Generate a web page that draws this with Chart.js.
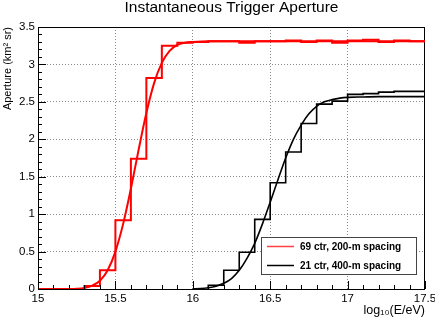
<!DOCTYPE html>
<html>
<head>
<meta charset="utf-8">
<script src="https://cdn.jsdelivr.net/npm/chart.js@4"></script>
<style>
html,body{margin:0;padding:0;background:#fff;}
canvas{display:block;}
</style>
</head>
<body>
<canvas id="c" width="435" height="320"></canvas>
<script>
// ---- data ----
const chartTitle = 'Instantaneous Trigger Aperture';
const xTitle = 'log\u2081\u2080(E/eV)';
const yTitle = 'Aperture (km\u00B2 sr)';
const xTickValues = [15, 15.5, 16, 16.5, 17, 17.5];
const xTickLabels = ['15', '15.5', '16', '16.5', '17', '17.5'];
const yTickValues = [0, 0.5, 1, 1.5, 2, 2.5, 3, 3.5];
const yTickLabels = ['0', '0.5', '1', '1.5', '2', '2.5', '3', '3.5'];

const redLabel = '69 ctr, 200-m spacing';
const blackLabel = '21 ctr, 400-m spacing';

// histogram bin edges and contents
const redBinEdges = [15.3,15.4,15.5,15.6,15.7,15.8,15.9,16.0,16.1,16.2,16.3,16.4,16.5,16.6,16.7,16.8,16.9,17.0,17.1,17.2,17.3,17.4,17.5];
const redCounts   = [0.04,0.25,0.92,1.74,2.82,3.25,3.29,3.30,3.31,3.31,3.29,3.31,3.31,3.32,3.30,3.32,3.29,3.32,3.33,3.30,3.32,3.31];

const blackBinEdges = [16.1,16.2,16.3,16.4,16.5,16.6,16.7,16.8,16.9,17.0,17.1,17.2,17.3,17.4,17.5];
const blackCounts   = [0.05,0.25,0.49,0.93,1.42,1.83,2.21,2.47,2.51,2.60,2.61,2.63,2.64,2.64];

// fitted curves
const redFitX = [15.0,15.1,15.2,15.25,15.3,15.35,15.4,15.45,15.5,15.55,15.6,15.65,15.7,15.75,15.8,15.85,15.9,15.95,16.0,16.1,16.5,17.0,17.5];
const redFitY = [0.0,0.0,0.001,0.004,0.015,0.044,0.11,0.25,0.5,0.87,1.34,1.86,2.35,2.75,3.02,3.18,3.26,3.29,3.30,3.31,3.31,3.31,3.31];

const blackFitX = [16.0,16.05,16.1,16.15,16.2,16.25,16.3,16.35,16.4,16.45,16.5,16.55,16.6,16.65,16.7,16.75,16.8,16.85,16.9,16.95,17.0,17.1,17.2,17.5];
const blackFitY = [0.003,0.007,0.017,0.037,0.077,0.14,0.25,0.41,0.61,0.87,1.16,1.46,1.75,2.00,2.19,2.34,2.44,2.50,2.53,2.55,2.56,2.565,2.57,2.57];

// ---- helpers ----
function histPoints(edges, vals) {
  const pts = [{x: edges[0], y: 0}];
  vals.forEach((v, i) => pts.push({x: edges[i], y: v}));
  pts.push({x: edges[edges.length - 1], y: vals[vals.length - 1]});
  return pts;
}
function curvePoints(xs, ys) { return xs.map((x, i) => ({x, y: ys[i]})); }

const FONT = "'Liberation Sans', Arial, Helvetica, sans-serif";
Chart.defaults.font.family = FONT;
Chart.defaults.color = '#000';

const frameAndTicks = {
  id: 'frameAndTicks',
  beforeDatasetsDraw(chart) {
    const {ctx, chartArea: a} = chart;
    ctx.save();
    ctx.strokeStyle = '#000';
    ctx.lineWidth = 1;
    ctx.strokeRect(Math.round(a.left) + 0.5, Math.round(a.top) + 0.5,
                   Math.round(a.right - a.left) - 1, Math.round(a.bottom - a.top));
    ctx.restore();
  },
  afterDatasetsDraw(chart) {
    const {ctx, chartArea: a, scales: {x, y}} = chart;
    ctx.save();
    ctx.strokeStyle = '#000';
    ctx.lineWidth = 1;
    ctx.beginPath();
    // x-axis ticks every 0.1, long every 0.5
    for (let i = 0; i <= 25; i++) {
      const px = Math.round(x.getPixelForValue(15 + i * 0.1)) + 0.5;
      const len = (i % 5 === 0) ? 8 : 4;
      ctx.moveTo(px, a.bottom);
      ctx.lineTo(px, a.bottom - len);
    }
    // y-axis ticks every 0.1, long every 0.5
    for (let j = 0; j <= 35; j++) {
      const py = Math.round(y.getPixelForValue(j * 0.1)) + 0.5;
      const len = (j % 5 === 0) ? 8 : 4;
      ctx.moveTo(a.left, py);
      ctx.lineTo(a.left + len, py);
    }
    ctx.stroke();
    ctx.restore();
  },
  afterDraw(chart) {
    const {ctx} = chart;
    ctx.save();
    // legend box
    const L = 261.5, T = 237.5, R = 416.5, B = 274.5;
    ctx.fillStyle = '#fff';
    ctx.fillRect(L, T, R - L, B - T);
    ctx.strokeStyle = '#444';
    ctx.lineWidth = 1;
    ctx.strokeRect(L, T, R - L, B - T);
    ctx.lineWidth = 1.5;
    ctx.strokeStyle = '#ff4040';
    ctx.beginPath(); ctx.moveTo(267, 246.5); ctx.lineTo(294, 246.5); ctx.stroke();
    ctx.strokeStyle = '#000';
    ctx.beginPath(); ctx.moveTo(267, 265.5); ctx.lineTo(294, 265.5); ctx.stroke();
    ctx.fillStyle = '#000';
    ctx.font = 'bold 10px ' + FONT;
    ctx.textBaseline = 'middle';
    ctx.textAlign = 'left';
    ctx.fillText(redLabel, 300, 247);
    ctx.fillText(blackLabel, 300, 266);
    ctx.restore();
  }
};

new Chart(document.getElementById('c'), {
  type: 'line',
  data: {
    datasets: [
      {label: 'red fit', data: curvePoints(redFitX, redFitY), borderColor: '#ff0000', borderWidth: 2,
       pointRadius: 0, cubicInterpolationMode: 'monotone', order: 2},
      {label: redLabel, data: histPoints(redBinEdges, redCounts), borderColor: '#ff0000', borderWidth: 2,
       pointRadius: 0, stepped: true, order: 3},
      {label: 'black fit', data: curvePoints(blackFitX, blackFitY), borderColor: '#000000', borderWidth: 1.6,
       pointRadius: 0, cubicInterpolationMode: 'monotone', order: 0},
      {label: blackLabel, data: histPoints(blackBinEdges, blackCounts), borderColor: '#000000', borderWidth: 1.6,
       pointRadius: 0, stepped: true, order: 1}
    ]
  },
  options: {
    responsive: false,
    animation: false,
    events: [],
    layout: {padding: {left: 0, right: 10, top: 0, bottom: 0}},
    plugins: {
      legend: {display: false},
      tooltip: {enabled: false},
      title: {
        display: true, text: chartTitle, fullSize: false,
        font: {size: 15.5, weight: 'normal', lineHeight: 1},
        color: '#000',
        padding: {top: 0, bottom: 11.5}
      }
    },
    scales: {
      x: {
        type: 'linear', min: 15, max: 17.5,
        afterBuildTicks(s) { s.ticks = xTickValues.map(v => ({value: v})); },
        ticks: {font: {size: 11.5}, padding: 3, autoSkip: false, maxRotation: 0, color: '#000',
                callback: (v) => xTickLabels[xTickValues.indexOf(v)] ?? String(v)},
        grid: {
          drawTicks: false, tickLength: 0, lineWidth: 1,
          color: c => (c.tick && (c.tick.value === 15 || c.tick.value === 17.5)) ? 'rgba(0,0,0,0)' : '#8a8a8a'
        },
        border: {display: false, dash: [1, 2]},
        title: {display: true, text: xTitle, align: 'end', font: {size: 12.5}, padding: {top: 0, bottom: 2}, color: '#000'},
        afterFit(s) { s.height = 31; s.paddingLeft = 0; s.paddingRight = 0; }
      },
      y: {
        type: 'linear', min: 0, max: 3.5,
        afterBuildTicks(s) { s.ticks = yTickValues.map(v => ({value: v})); },
        ticks: {font: {size: 11.5}, padding: 3, color: '#000',
                callback: (v) => yTickLabels[yTickValues.indexOf(v)] ?? String(v)},
        grid: {
          drawTicks: false, tickLength: 0, lineWidth: 1,
          color: c => (c.tick && (c.tick.value === 0 || c.tick.value === 3.5)) ? 'rgba(0,0,0,0)' : '#8a8a8a'
        },
        border: {display: false, dash: [1, 2]},
        title: {display: true, text: yTitle, align: 'end', font: {size: 11}, padding: {top: 1, bottom: 0}, color: '#000'},
        afterFit(s) { s.width = 38; s.paddingTop = 0; s.paddingBottom = 0; }
      }
    }
  },
  plugins: [frameAndTicks]
});
</script>
</body>
</html>
